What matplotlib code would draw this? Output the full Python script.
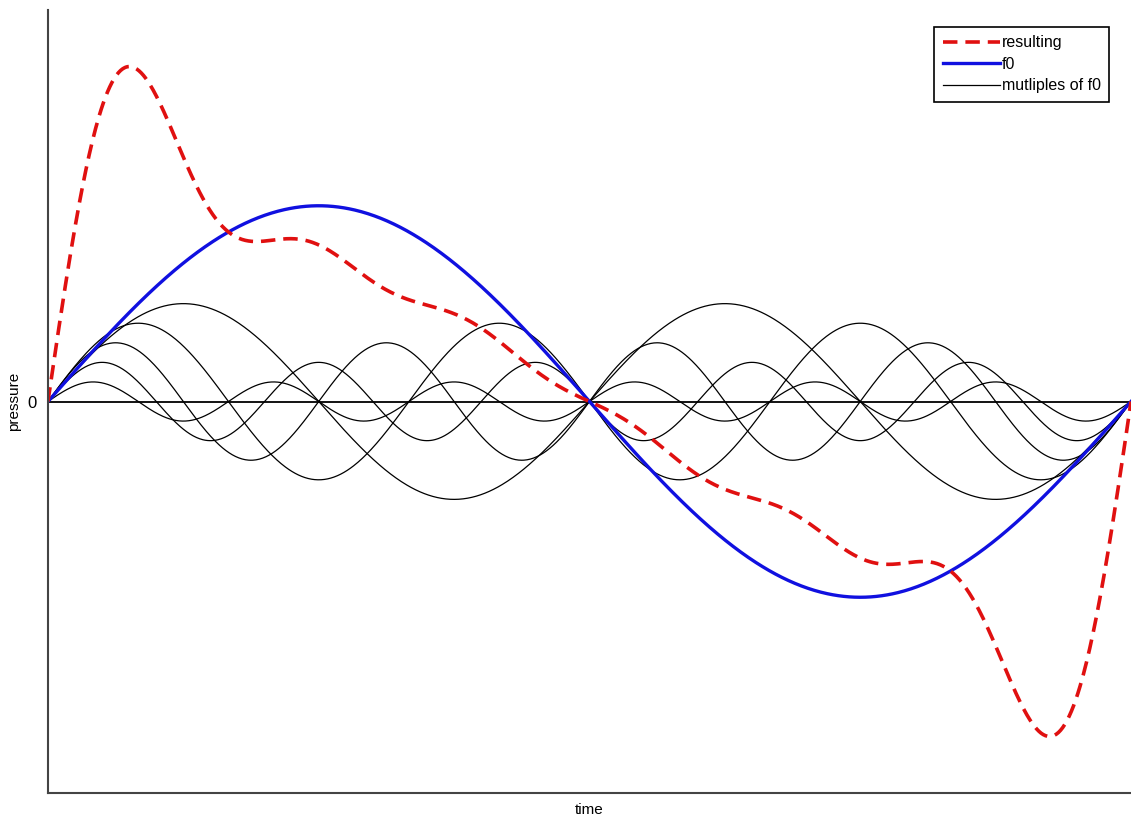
import numpy as np
import matplotlib.pyplot as plt

plt.rcParams['font.family'] = ['Liberation Sans', 'DejaVu Sans']

# harmonic numbers and amplitudes (f0 amplitude = 1)
f0_amp = 1.0
harmonics = [2, 3, 4, 5, 6]
harm_amps = [0.5, 0.4, 0.3, 0.2, 0.1]

t = np.linspace(0, 2 * np.pi, 1000)
f0 = f0_amp * np.sin(t)
multiples = [a * np.sin(k * t) for k, a in zip(harmonics, harm_amps)]
resulting = f0 + np.sum(multiples, axis=0)

fig = plt.figure(figsize=(11.31, 8.21), dpi=100)
ax = fig.add_axes([0.0424, 0.0341, 0.9576, 0.9537])

ax.axhline(0, color='black', lw=1.3)
for i, m in enumerate(multiples):
    ax.plot(t, m, color='black', lw=0.9, label='mutliples of f0' if i == 0 else None)
ax.plot(t, f0, color='#1010e0', lw=2.4, label='f0')
ax.plot(t, resulting, color='#e01010', lw=2.6, ls=(0, (4, 2.2)), label='resulting')

ax.set_xlim(0, 2 * np.pi)
ax.set_ylim(-2.0, 2.0)
ax.set_xticks([])
ax.set_yticks([0])
ax.tick_params(axis='y', length=0, labelsize=12, pad=8)
ax.set_xlabel('time', fontsize=11, labelpad=7)
ax.set_ylabel('pressure', fontsize=11, labelpad=5)
ax.spines['top'].set_visible(False)
ax.spines['right'].set_visible(False)
ax.spines['left'].set_color('#444444')
ax.spines['bottom'].set_color('#444444')
ax.spines['left'].set_linewidth(1.5)
ax.spines['bottom'].set_linewidth(1.5)

h, l = ax.get_legend_handles_labels()
order = [2, 1, 0]
leg = ax.legend([h[i] for i in order], [l[i] for i in order], loc='upper right',
                bbox_to_anchor=(0.9875, 0.989), fontsize=11.5, fancybox=False,
                framealpha=1, edgecolor='black', handlelength=3.6, handletextpad=0.1,
                borderpad=0.55, labelspacing=0.4)
leg.get_frame().set_linewidth(1.2)

fig.savefig('out.png', dpi=100)
